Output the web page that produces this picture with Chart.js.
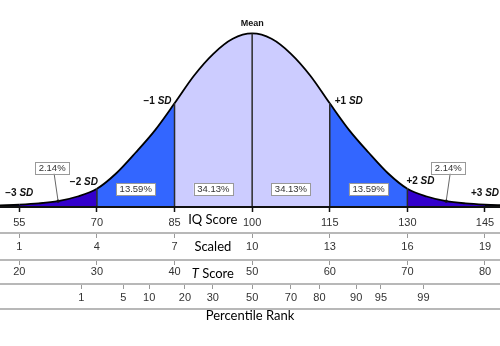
<!DOCTYPE html>
<html>
<head>
<meta charset="utf-8">
<script src="https://cdn.jsdelivr.net/npm/chart.js@4.4.1/dist/chart.umd.min.js"></script>
<style>
  html, body { margin: 0; padding: 0; background: #fff; }
  #wrap { width: 500px; height: 346px; }
</style>
</head>
<body>
<div id="wrap"><canvas id="bell"></canvas></div>
<script>
// bell curve, sampled every quarter SD on the IQ scale (height relative to the peak)
const curveIQ = [51.25, 55, 58.75, 62.5, 66.25, 70, 73.75, 77.5, 81.25, 85, 88.75, 92.5, 96.25,
  100, 103.75, 107.5, 111.25, 115, 118.75, 122.5, 126.25, 130, 133.75, 137.5, 141.25, 145, 148.75];
const curveHeight = [0.004, 0.008, 0.015, 0.028, 0.055, 0.1, 0.19, 0.31, 0.44, 0.595, 0.755, 0.882, 0.969,
  1.0, 0.969, 0.882, 0.755, 0.595, 0.44, 0.31, 0.19, 0.1, 0.055, 0.028, 0.015, 0.008, 0.004];

// score rows under the curve
const iqScores = [55, 70, 85, 100, 115, 130, 145];
const scaledScores = [1, 4, 7, 10, 13, 16, 19];
const tScores = [20, 30, 40, 50, 60, 70, 80];
const sdNames = ["−3 SD", "−2 SD", "−1 SD", "Mean", "+1 SD", "+2 SD", "+3 SD"];

const percentileRanks = [1, 5, 10, 20, 30, 50, 70, 80, 90, 95, 99];
const percentileIQ = [67, 75.1, 80.1, 87, 92.4, 100, 107.5, 113, 120.1, 124.9, 133.1];

// share of cases between neighbouring SD marks
const bandShares = [2.14, 13.59, 34.13, 34.13, 13.59, 2.14];

const xMin = 51.27, xMax = 147.9;
const tickFont = { family: "Liberation Sans", size: 11 };
const titleFont = "13px Lato";

function bandColor(iq) {
  const d = Math.abs(iq - 100);
  if (d < 15) return "#ccccff";
  if (d < 30) return "#3366ff";
  if (d < 45) return "#3300cc";
  return "#0a0a3a";
}

function heightAt(iq) {
  return curveHeight[curveIQ.indexOf(iq)];
}

function fixedTicks(values) {
  return scale => { scale.ticks = values.map(v => ({ value: v })); };
}

function rowAxis(values, labels, height, tickLen, pad, border) {
  return {
    type: "linear", position: "bottom", min: xMin, max: xMax,
    afterBuildTicks: fixedTicks(values),
    afterFit: s => { s.height = height; },
    grid: { drawOnChartArea: false, tickLength: tickLen, tickColor: "#999", tickWidth: 1 },
    border: border || { color: "#b8b8b8", width: 2 },
    ticks: {
      autoSkip: false, maxRotation: 0, padding: pad, color: "#333", font: tickFont,
      callback: (v, i) => labels[i]
    }
  };
}

const curve = curveIQ.map((x, i) => ({ x, y: curveHeight[i] }));

// vertical SD lines from the base up to the curve
const sdLines = iqScores.slice(1, -1).map(v => ({
  data: [{ x: v, y: 0 }, { x: v, y: heightAt(v) }],
  borderColor: "#2a2a2a", borderWidth: 1.5, pointRadius: 0, fill: false
}));

const annotations = {
  id: "annotations",
  afterDatasetsDraw(chart) {
    const { ctx } = chart;
    const x = chart.scales.x, y = chart.scales.y;
    ctx.save();

    // SD names along the curve
    const sdPlace = [
      { dx: 0, dy: -11, align: "center" },
      { dx: 1, dy: -6, align: "right" },
      { dx: -3, dy: -2, align: "right" },
      { dx: 0, dy: -10, align: "center" },
      { dx: 5, dy: -2, align: "left" },
      { dx: -1, dy: -7, align: "left" },
      { dx: 0, dy: -11, align: "center" }
    ];
    ctx.fillStyle = "#111";
    ctx.textBaseline = "middle";
    iqScores.forEach((v, i) => {
      const p = sdPlace[i];
      const px = x.getPixelForValue(v) + p.dx;
      const py = y.getPixelForValue(heightAt(v)) + p.dy;
      const name = sdNames[i];
      if (name === "Mean") {
        ctx.font = "bold 9px 'Liberation Sans'";
        ctx.textAlign = "center";
        ctx.fillText(name, px, py);
        return;
      }
      const [num, sd] = name.split(" ");
      ctx.font = "bold 10px 'Liberation Sans'";
      const w1 = ctx.measureText(num + " ").width;
      ctx.font = "italic bold 10px 'Liberation Sans'";
      const w2 = ctx.measureText(sd).width;
      const total = w1 + w2;
      let left = px;
      if (p.align === "center") left = px - total / 2;
      if (p.align === "right") left = px - total;
      ctx.textAlign = "left";
      ctx.font = "bold 10px 'Liberation Sans'";
      ctx.fillText(num + " ", left, py);
      ctx.font = "italic bold 10px 'Liberation Sans'";
      ctx.fillText(sd, left + w1, py);
    });

    // percentage boxes
    ctx.font = "9.5px 'Liberation Sans'";
    ctx.textAlign = "center";
    bandShares.forEach((share, i) => {
      const lo = iqScores[i], hi = iqScores[i + 1];
      const mid = (lo + hi) / 2;
      const tail = i === 0 || i === bandShares.length - 1;
      let cx = x.getPixelForValue(mid);
      let cy = 189;
      if (tail) {
        cx += i === 0 ? -6 : 2;
        cy = 167.5;
      }
      const text = share.toFixed(2) + "%";
      const w = ctx.measureText(text).width + 7, h = 12;
      if (tail) {
        const tx = x.getPixelForValue(mid), ty = y.getPixelForValue(heightAt(mid));
        ctx.strokeStyle = "#666";
        ctx.lineWidth = 1;
        ctx.beginPath();
        ctx.moveTo(cx + 2, cy + h / 2);
        ctx.lineTo(tx, ty);
        ctx.stroke();
        ctx.fillStyle = "#111";
        ctx.beginPath();
        ctx.arc(tx, ty, 1.6, 0, Math.PI * 2);
        ctx.fill();
      }
      ctx.fillStyle = "#fff";
      ctx.fillRect(cx - w / 2, cy - h / 2, w, h);
      ctx.strokeStyle = "#999";
      ctx.lineWidth = 1;
      ctx.strokeRect(Math.round(cx - w / 2) + 0.5, Math.round(cy - h / 2) + 0.5, Math.round(w), h);
      ctx.fillStyle = "#333";
      ctx.fillText(text, cx, cy + 0.5);
    });
    ctx.restore();
  },
  afterDraw(chart) {
    const { ctx } = chart;
    const x = chart.scales.x;
    const cx = x.getPixelForValue(92.4);
    ctx.save();
    ctx.fillStyle = "#000";
    ctx.textBaseline = "middle";
    ctx.textAlign = "left";
    const rows = [
      [chart.scales.x, "", "IQ Score"],
      [chart.scales.scaled, "", "Scaled"],
      [chart.scales.tscore, "T", " Score"]
    ];
    rows.forEach(([scale, it, rest]) => {
      ctx.font = "italic " + titleFont;
      const w1 = it ? ctx.measureText(it).width : 0;
      ctx.font = titleFont;
      const w2 = ctx.measureText(rest).width;
      const left = cx - (w1 + w2) / 2;
      const cy = scale.top + 14;
      if (it) {
        ctx.font = "italic " + titleFont;
        ctx.fillText(it, left, cy);
      }
      ctx.font = titleFont;
      ctx.fillText(rest, left + w1, cy);
    });
    ctx.restore();
  }
};

new Chart(document.getElementById("bell"), {
  type: "line",
  data: {
    datasets: [
      ...sdLines,
      {
        data: curve,
        borderColor: "#000",
        borderWidth: 1.8,
        pointRadius: 0,
        cubicInterpolationMode: "monotone",
        fill: "origin",
        backgroundColor: "#ccccff",
        segment: {
          backgroundColor: c => bandColor((c.p0.parsed.x + c.p1.parsed.x) / 2)
        }
      }
    ]
  },
  options: {
    responsive: true,
    maintainAspectRatio: false,
    animation: false,
    layout: { padding: 0 },
    plugins: { legend: { display: false }, tooltip: { enabled: false } },
    scales: {
      y: { display: false, min: 0, max: 1.194 },
      x: Object.assign(rowAxis(iqScores, iqScores, 27, 6, 4, { color: "#111", width: 3 }), {
        z: 1,
        grid: { drawOnChartArea: false, tickLength: 6, tickColor: "#111", tickWidth: 1.5 }
      }),
      scaled: rowAxis(iqScores, scaledScores, 27, 5, 2),
      tscore: rowAxis(iqScores, tScores, 24, 5, 0),
      pct: rowAxis(percentileIQ, percentileRanks, 25, 5, 2),
      rank: {
        type: "linear", position: "bottom", min: xMin, max: xMax,
        afterFit: s => { s.height = 37; },
        grid: { display: false },
        ticks: { display: false },
        border: { color: "#b8b8b8", width: 2 },
        title: {
          display: true, text: "Percentile Rank", color: "#000",
          font: { family: "Lato", size: 13 }, padding: { top: 0, bottom: 22 }
        }
      }
    }
  },
  plugins: [annotations]
});
</script>
</body>
</html>
